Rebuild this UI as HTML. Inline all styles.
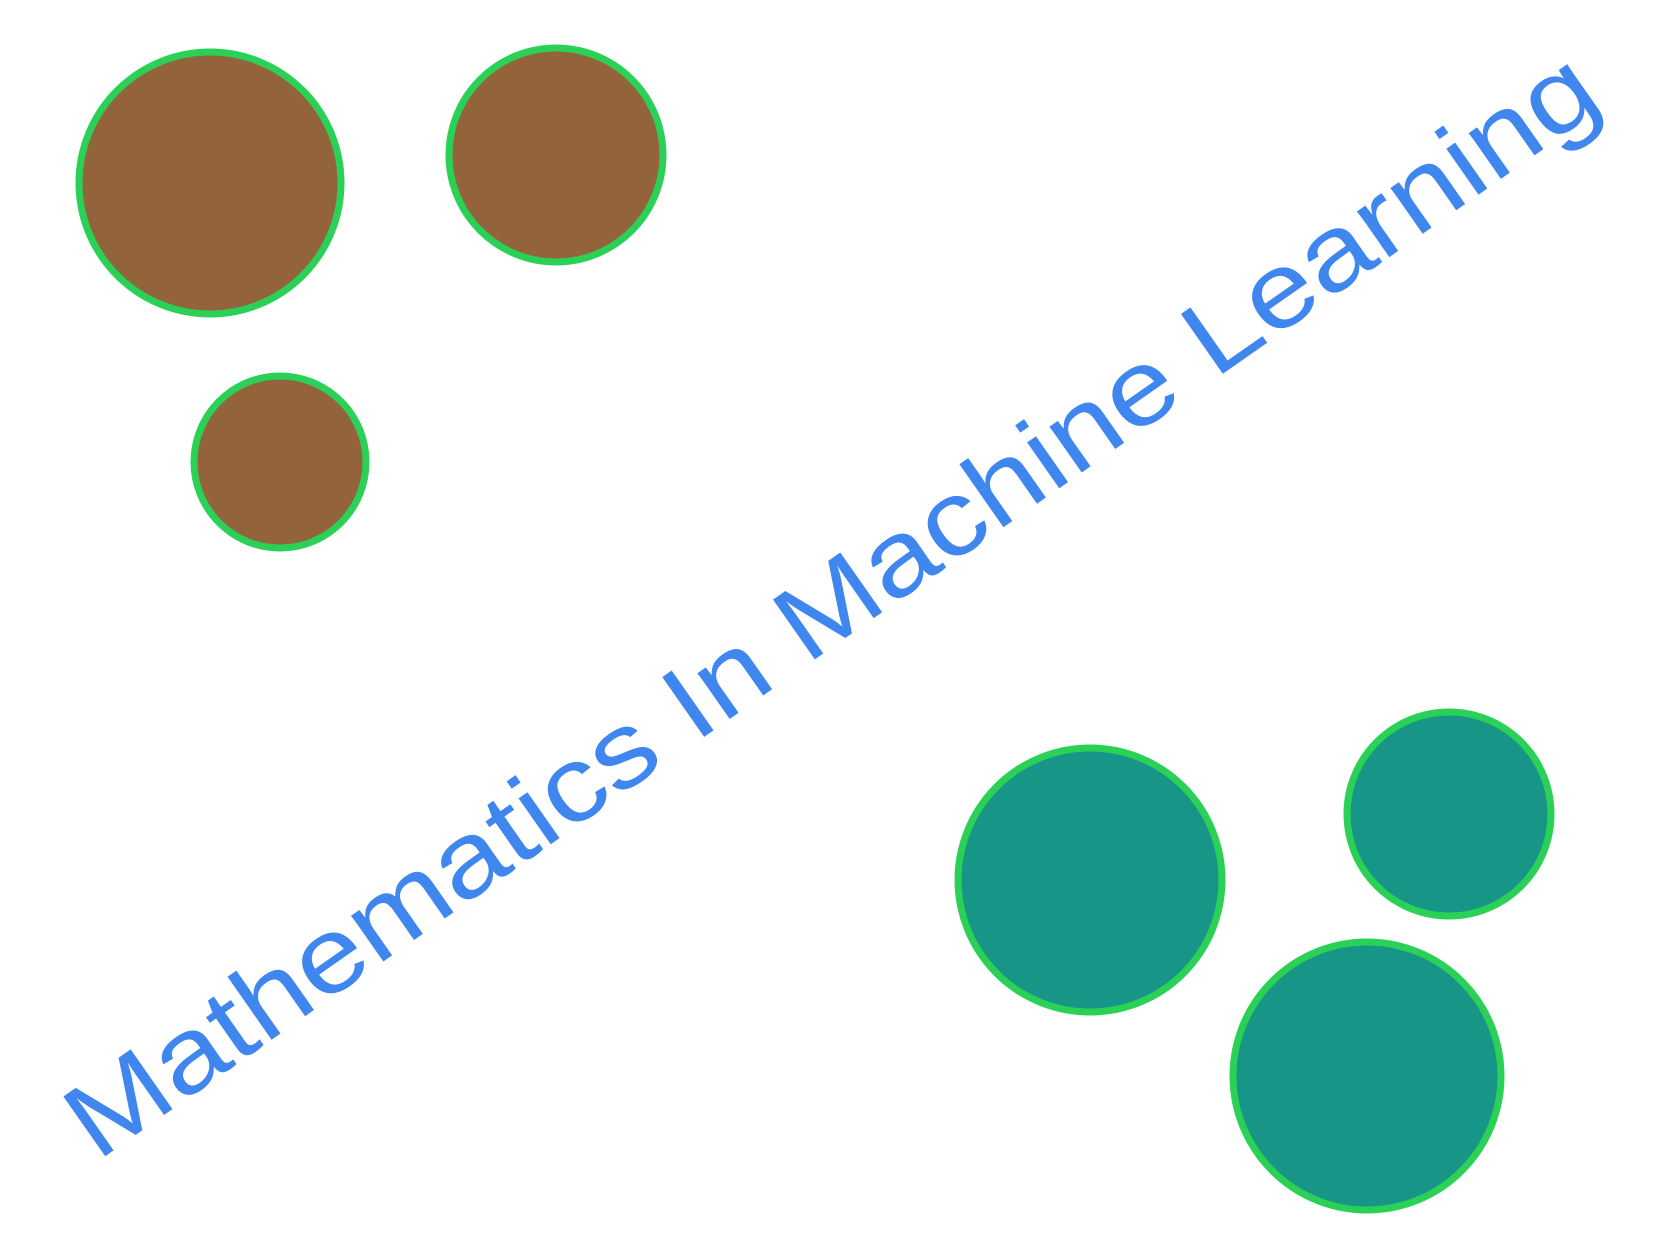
<!DOCTYPE html>
<html><head><meta charset="utf-8"><style>html,body{margin:0;padding:0;background:#fff}svg{display:block}</style></head>
<body>
<svg width="1656" height="1242" viewBox="0 0 1656 1242" xmlns="http://www.w3.org/2000/svg">
<rect width="1656" height="1242" fill="#fff"/>
<g stroke="#2bd157" stroke-width="7">
<circle cx="210" cy="183" r="131" fill="#93633c"/>
<circle cx="556" cy="155" r="107" fill="#93633c"/>
<circle cx="280" cy="462" r="86" fill="#93633c"/>
<circle cx="1090" cy="880" r="132" fill="#179587"/>
<circle cx="1449" cy="814" r="102" fill="#179587"/>
<circle cx="1367" cy="1076" r="134" fill="#179587"/>
</g>
<text x="97" y="1162" transform="rotate(-35 97 1162)" font-family="Liberation Sans, sans-serif" font-size="106" fill="#3f86ee" textLength="1842" lengthAdjust="spacingAndGlyphs">Mathematics In Machine Learning</text>
</svg>
</body></html>
